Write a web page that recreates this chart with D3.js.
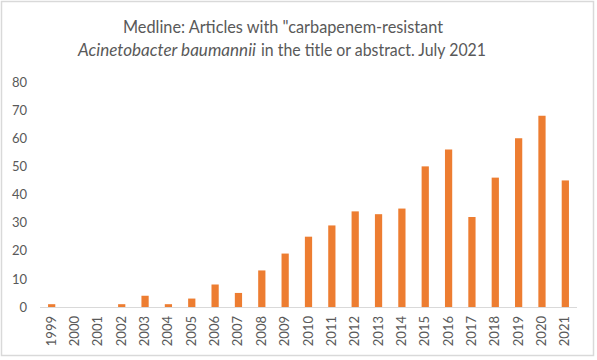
<!DOCTYPE html>
<html><head><meta charset="utf-8">
<script src="https://cdn.jsdelivr.net/npm/d3@7/dist/d3.min.js"></script>
<style>body{margin:0;background:#fff;} text{font-family:Lato,"Open Sans",sans-serif;}</style>
</head><body>
<svg id="c" width="597" height="360"></svg>
<script>
const years = ["1999","2000","2001","2002","2003","2004","2005","2006","2007","2008","2009","2010","2011","2012","2013","2014","2015","2016","2017","2018","2019","2020","2021"];
const articles = [1,0,0,1,4,1,3,8,5,13,19,25,29,34,33,35,50,56,32,46,60,68,45];
const yTicks = [0,10,20,30,40,50,60,70,80];

const svg = d3.select("#c");
svg.append("rect").attr("x",1.5).attr("y",1.5).attr("width",592).attr("height",354)
  .attr("fill","#fff").attr("stroke","#d9d9d9").attr("stroke-width",1.5);

const x = d3.scaleBand().domain(years).range([40,577]).paddingInner(0.69).paddingOuter(0.345);
const y = d3.scaleLinear().domain([0,80]).range([307,82]);

svg.append("g").selectAll("rect").data(years).join("rect")
  .attr("x",d=>x(d)).attr("width",x.bandwidth())
  .attr("y",(d,i)=>y(articles[i])).attr("height",(d,i)=>y(0)-y(articles[i]))
  .attr("fill","#ED7D31");

const ya = svg.append("g").attr("transform","translate(27,0)")
  .call(d3.axisLeft(y).tickValues(yTicks).tickSize(0).tickPadding(0));
ya.select(".domain").remove();
ya.selectAll("text").attr("fill","#595959").style("font-size","13px").style("font-family","Lato");

svg.append("line").attr("x1",40).attr("x2",577).attr("y1",y(0)+0.5).attr("y2",y(0)+0.5)
  .attr("stroke","#d9d9d9").attr("stroke-width",1);

const xa = svg.append("g").attr("transform",`translate(0,${y(0)})`)
  .call(d3.axisBottom(x).tickSize(0).tickPadding(0));
xa.select(".domain").remove();
xa.selectAll("text").attr("fill","#595959").style("font-size","13px").style("font-family","Lato")
  .attr("text-anchor","end").attr("transform","translate(4,9) rotate(-90)").attr("dy",0).attr("dx",0);

const t = svg.append("g").attr("fill","#595959").style("font-size","17px");
t.append("text").attr("x",123).attr("y",33)
  .attr("textLength",320).attr("lengthAdjust","spacingAndGlyphs")
  .text("Medline: Articles with \"carbapenem-resistant");
t.append("text").attr("x",78).attr("y",56).style("font-style","italic")
  .attr("textLength",178).attr("lengthAdjust","spacingAndGlyphs")
  .text("Acinetobacter baumannii");
t.append("text").attr("x",261).attr("y",56)
  .attr("textLength",225).attr("lengthAdjust","spacingAndGlyphs")
  .text("in the title or abstract. July 2021");
</script>
</body></html>
